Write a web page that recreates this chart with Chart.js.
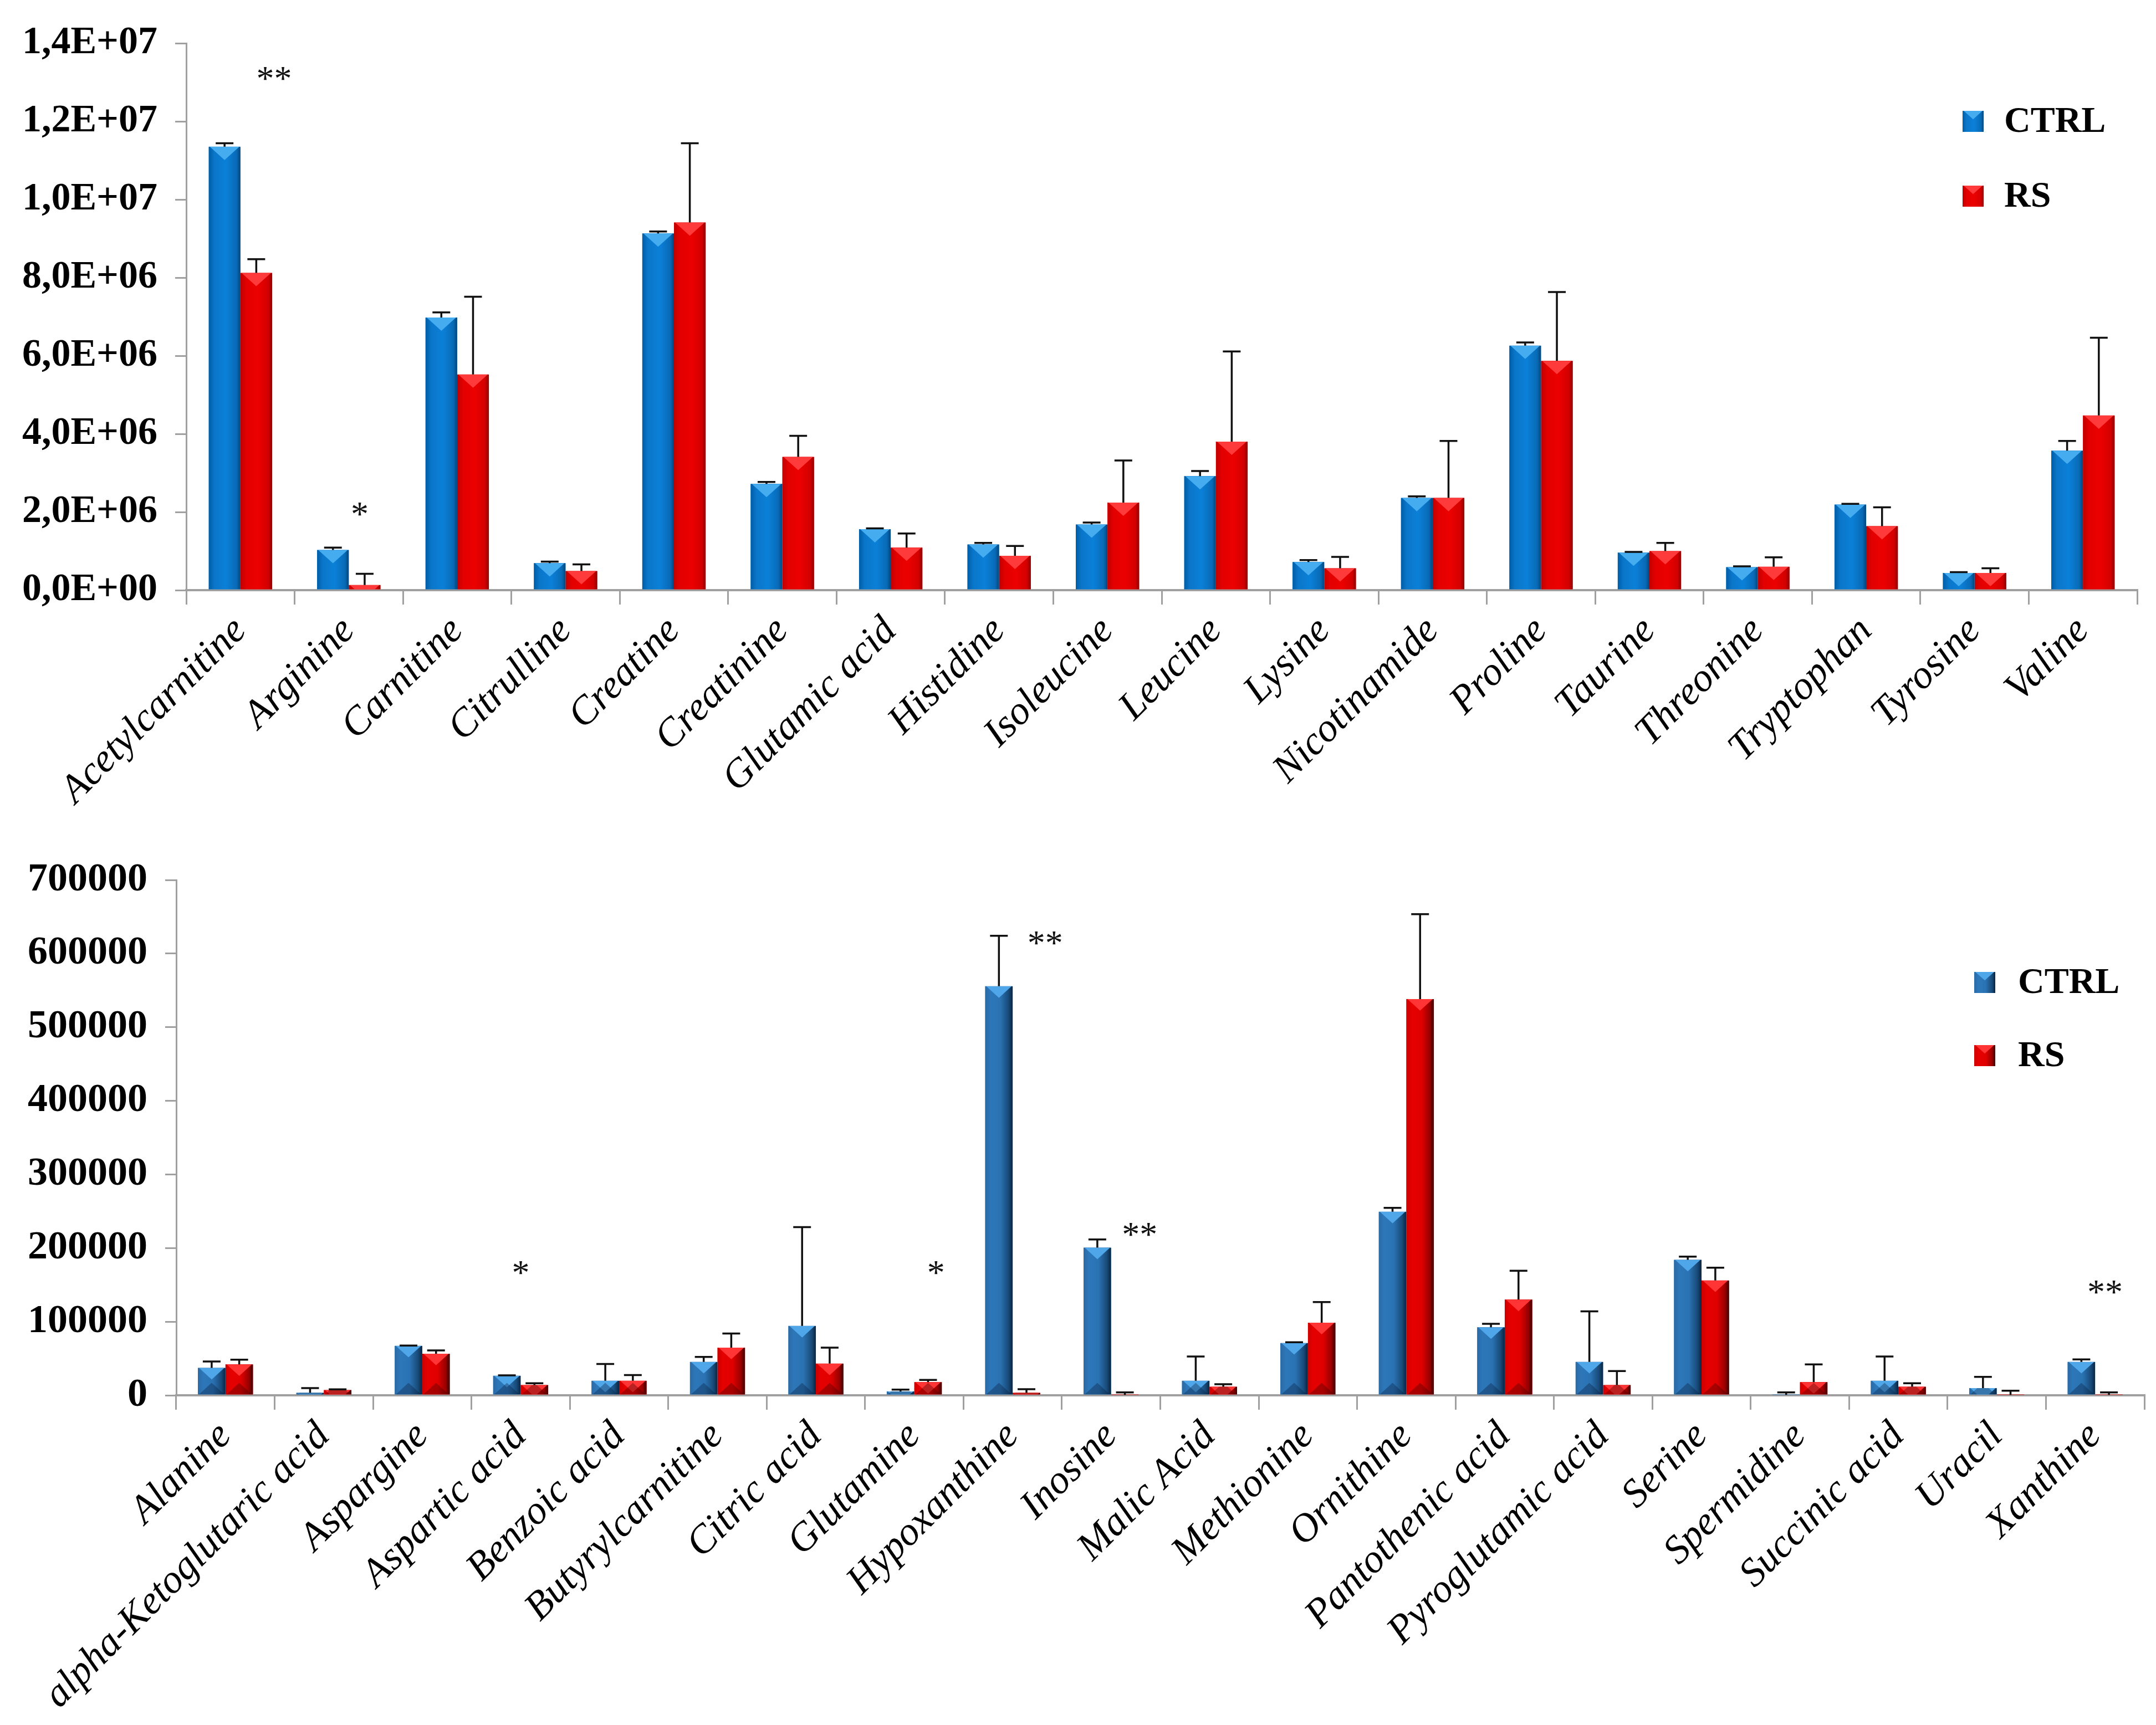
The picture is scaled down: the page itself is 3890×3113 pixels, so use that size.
<!DOCTYPE html>
<html>
<head>
<meta charset="utf-8">
<script src="https://cdn.jsdelivr.net/npm/chart.js@4.4.1/dist/chart.umd.min.js"></script>
<style>
html, body { margin: 0; padding: 0; background: #fff; }
#wrap { position: relative; width: 3890px; height: 3113px; background: #fff; overflow: hidden; }
#topChart { position: absolute; left: 0; top: 0; width: 3890px; height: 1500px; }
#bottomChart { position: absolute; left: 0; top: 1492px; width: 3890px; height: 1613px; }
</style>
</head>
<body>
<div id="wrap">
  <canvas id="topChart" width="3890" height="1500"></canvas>
  <canvas id="bottomChart" width="3890" height="1613"></canvas>
</div>
<script>
// ---- top panel data ----
const topLabels = ["Acetylcarnitine", "Arginine", "Carnitine", "Citrulline", "Creatine", "Creatinine",
    "Glutamic acid", "Histidine", "Isoleucine", "Leucine", "Lysine", "Nicotinamide", "Proline",
    "Taurine", "Threonine", "Tryptophan", "Tyrosine", "Valine"];
const topCtrl = [11.35e6, 1.03e6, 6.98e6, 0.69e6, 9.13e6, 2.72e6, 1.56e6, 1.17e6, 1.68e6,
    2.92e6, 0.72e6, 2.36e6, 6.26e6, 0.96e6, 0.59e6, 2.19e6, 0.44e6, 3.57e6];
const topCtrlErr = [0.09e6, 0.06e6, 0.13e6, 0.04e6, 0.05e6, 0.05e6, 0.02e6, 0.04e6, 0.05e6,
    0.13e6, 0.05e6, 0.04e6, 0.08e6, 0.02e6, 0.02e6, 0.02e6, 0.02e6, 0.25e6];
const topRs = [8.12e6, 0.13e6, 5.52e6, 0.49e6, 9.41e6, 3.41e6, 1.09e6, 0.88e6, 2.24e6,
    3.80e6, 0.56e6, 2.36e6, 5.87e6, 1.00e6, 0.60e6, 1.64e6, 0.44e6, 4.47e6];
const topRsErr = [0.35e6, 0.29e6, 1.99e6, 0.17e6, 2.03e6, 0.54e6, 0.36e6, 0.25e6, 1.08e6,
    2.31e6, 0.29e6, 1.46e6, 1.76e6, 0.21e6, 0.24e6, 0.48e6, 0.12e6, 1.99e6];
const topSigCats = [0, 1];
const topSigText = ["**", "*"];
const topSigValue = [1.32e7, 2.05e6];

// ---- bottom panel data ----
const botLabels = ["Alanine", "alpha-Ketoglutaric acid", "Aspargine", "Aspartic acid", "Benzoic acid",
    "Butyrylcarnitine", "Citric acid", "Glutamine", "Hypoxanthine", "Inosine", "Malic Acid",
    "Methionine", "Ornithine", "Pantothenic acid", "Pyroglutamic acid", "Serine", "Spermidine",
    "Succinic acid", "Uracil", "Xanthine"];
const botCtrl = [37200, 3400, 67200, 26600, 19800, 45400, 94200, 5300, 555600, 200500,
    19800, 71000, 249300, 92300, 45400, 184100, 500, 19800, 9700, 45400];
const botCtrlErr = [8700, 6300, 400, 500, 22700, 6800, 134300, 2400, 68600, 11100,
    32900, 1000, 5300, 4800, 68600, 4300, 3400, 32900, 15400, 3400];
const botRs = [42000, 7200, 56500, 14000, 19800, 64700, 43000, 17900, 3400, 500,
    11600, 98600, 538200, 130000, 14000, 156000, 17900, 11600, 500, 500];
const botRsErr = [6300, 800, 4400, 2400, 7700, 19300, 21700, 2900, 4800, 3400,
    3400, 28000, 115400, 39100, 18900, 17400, 24100, 4800, 5800, 3400];
const botSigCats = [3, 7, 8, 9, 19];
const botSigText = ["*", "*", "**", "**", "**"];
const botSigValue = [172500, 172500, 620000, 224000, 146000];

const seriesNames = ["CTRL", "RS"];

const SERIF = '"Liberation Serif", "Times New Roman", serif';

const topPalettes = [
    { body: [[0, '#005da6'], [0.18, '#0a76c9'], [0.55, '#0b80d8'], [0.88, '#086ab6'], [1, '#04457a']],
      top: '#46acf0', bottom: null, flat: '#0a78cc' },
    { body: [[0, '#c00000'], [0.18, '#e20000'], [0.55, '#ec0000'], [0.88, '#d20000'], [1, '#8c0000']],
      top: '#ff3a3a', bottom: null, flat: '#e60000' }
];
const botPalettes = [
    { body: [[0, '#2b6aa5'], [0.2, '#2d77b9'], [0.55, '#2a72b2'], [0.85, '#184a78'], [1, '#0a2440']],
      top: '#4fa6e8', bottom: 'rgba(10,30,60,0.35)', flat: '#2a72b2' },
    { body: [[0, '#cc0000'], [0.2, '#e60000'], [0.55, '#e00000'], [0.85, '#990000'], [1, '#3c0000']],
      top: '#ff3434', bottom: 'rgba(60,0,0,0.35)', flat: '#e00000' }
];

function sciLabel(v) {
    if (v === 0) return '0,0E+00';
    let e = Math.floor(Math.log10(v) + 1e-9);
    let m = v / Math.pow(10, e);
    return m.toFixed(1).replace('.', ',') + 'E+' + (e < 10 ? '0' + e : e);
}

// bars with bevel, error bars, significance marks and legend
const decorPlugin = {
    id: 'decor',
    afterDatasetsDraw(chart, args, opts) {
        const ctx = chart.ctx;
        const xs = chart.scales.x, ys = chart.scales.y;
        chart.data.datasets.forEach((ds, i) => {
            const meta = chart.getDatasetMeta(i);
            const pal = opts.palettes[i];
            meta.data.forEach((bar, j) => {
                const w = bar.width, l = bar.x - w / 2, r = bar.x + w / 2;
                const t = bar.y, b = bar.base;
                if (b - t > 0.5) {
                    ctx.save();
                    ctx.beginPath();
                    ctx.rect(l, t, w, b - t);
                    ctx.clip();
                    const g = ctx.createLinearGradient(l, 0, r, 0);
                    pal.body.forEach(s => g.addColorStop(s[0], s[1]));
                    ctx.fillStyle = g;
                    ctx.fillRect(l, t, w, b - t);
                    ctx.beginPath();
                    ctx.moveTo(l + 2, t);
                    ctx.lineTo(r - 2, t);
                    ctx.lineTo(bar.x, t + w * 0.42);
                    ctx.closePath();
                    ctx.fillStyle = pal.top;
                    ctx.fill();
                    if (pal.bottom) {
                        ctx.beginPath();
                        ctx.moveTo(l + 2, b);
                        ctx.lineTo(r - 2, b);
                        ctx.lineTo(bar.x, b - w * 0.42);
                        ctx.closePath();
                        ctx.fillStyle = pal.bottom;
                        ctx.fill();
                    }
                    ctx.restore();
                }
                // error bar (upper only)
                const err = opts.errors[i][j];
                const yTop = ys.getPixelForValue(ds.data[j] + err);
                ctx.save();
                ctx.strokeStyle = '#111';
                ctx.lineWidth = 3.5;
                ctx.beginPath();
                ctx.moveTo(bar.x, t);
                ctx.lineTo(bar.x, yTop);
                ctx.moveTo(bar.x - 16, yTop);
                ctx.lineTo(bar.x + 16, yTop);
                ctx.stroke();
                ctx.restore();
            });
        });
        // significance marks
        const catW = xs.width / chart.data.labels.length;
        ctx.save();
        ctx.fillStyle = '#111';
        ctx.font = '64px ' + SERIF;
        ctx.textAlign = 'center';
        ctx.textBaseline = 'middle';
        opts.sigCats.forEach((c, k) => {
            const x = xs.getPixelForValue(c) + opts.sigShift[k] * catW;
            const y = ys.getPixelForValue(opts.sigValue[k]) + 12;
            ctx.fillText(opts.sigText[k], x, y);
        });
        ctx.restore();
        // legend
        ctx.save();
        ctx.font = 'bold 66px ' + SERIF;
        ctx.textBaseline = 'middle';
        ctx.textAlign = 'left';
        seriesNames.forEach((name, i) => {
            const pal = opts.palettes[i];
            const cy = opts.legend.y[i];
            const lx = opts.legend.x, s = 38;
            const g = ctx.createLinearGradient(lx, 0, lx + s, 0);
            pal.body.forEach(st => g.addColorStop(st[0], st[1]));
            ctx.fillStyle = g;
            ctx.fillRect(lx, cy - s / 2, s, s);
            ctx.beginPath();
            ctx.moveTo(lx + 2, cy - s / 2);
            ctx.lineTo(lx + s - 2, cy - s / 2);
            ctx.lineTo(lx + s / 2, cy - s / 2 + s * 0.4);
            ctx.closePath();
            ctx.fillStyle = pal.top;
            ctx.fill();
            ctx.fillStyle = '#000';
            ctx.fillText(name, opts.legend.textX, cy + 2);
        });
        ctx.restore();
    }
};

function makeChart(id, cfg) {
    return new Chart(document.getElementById(id), {
        type: 'bar',
        data: {
            labels: cfg.labels,
            datasets: [
                { label: seriesNames[0], data: cfg.ctrl, backgroundColor: cfg.palettes[0].flat, borderWidth: 0 },
                { label: seriesNames[1], data: cfg.rs, backgroundColor: cfg.palettes[1].flat, borderWidth: 0 }
            ]
        },
        options: {
            responsive: false,
            animation: false,
            devicePixelRatio: 1,
            datasets: {
                bar: { categoryPercentage: cfg.catPct, barPercentage: 1 }
            },
            layout: { padding: cfg.padding },
            plugins: {
                legend: { display: false },
                tooltip: { enabled: false },
                decor: {
                    palettes: cfg.palettes,
                    errors: [cfg.ctrlErr, cfg.rsErr],
                    sigCats: cfg.sigCats,
                    sigText: cfg.sigText,
                    sigValue: cfg.sigValue,
                    sigShift: cfg.sigShift,
                    legend: cfg.legend
                }
            },
            scales: {
                x: {
                    afterFit: s => { s.height = cfg.xHeight; },
                    grid: { drawOnChartArea: false, color: '#a0a0a0', lineWidth: 3, tickLength: 26 },
                    border: { color: '#a0a0a0', width: 4 },
                    ticks: {
                        autoSkip: false,
                        maxRotation: 45,
                        minRotation: 45,
                        padding: 6,
                        color: '#000',
                        font: { family: SERIF, size: 72, style: 'italic' }
                    }
                },
                y: {
                    min: 0,
                    max: cfg.yMax,
                    afterFit: s => { s.width = cfg.yWidth; },
                    grid: { drawOnChartArea: false, color: '#a0a0a0', lineWidth: 3, tickLength: 20 },
                    border: { color: '#a0a0a0', width: 3 },
                    ticks: {
                        stepSize: cfg.yStep,
                        padding: 32,
                        color: '#000',
                        font: { family: SERIF, size: cfg.yFont, weight: 'bold' },
                        callback: cfg.yFormat
                    }
                }
            }
        },
        plugins: [decorPlugin]
    });
}

makeChart('topChart', {
    labels: topLabels, ctrl: topCtrl, rs: topRs, ctrlErr: topCtrlErr, rsErr: topRsErr,
    palettes: topPalettes, catPct: 0.585,
    padding: { top: 78, right: 34, left: 0, bottom: 0 },
    xHeight: 435, yWidth: 336, yMax: 1.4e7, yStep: 2e6, yFont: 70,
    yFormat: v => sciLabel(v),
    sigCats: topSigCats, sigText: topSigText, sigValue: topSigValue, sigShift: [0.31, 0.1],
    legend: { x: 3541, textX: 3616, y: [219, 354] }
});

makeChart('bottomChart', {
    labels: botLabels, ctrl: botCtrl, rs: botRs, ctrlErr: botCtrlErr, rsErr: botRsErr,
    palettes: botPalettes, catPct: 0.56,
    padding: { top: 96, right: 21, left: 0, bottom: 0 },
    xHeight: 587, yWidth: 318, yMax: 700000, yStep: 100000, yFont: 72,
    yFormat: v => String(v),
    sigCats: botSigCats, sigText: botSigText, sigValue: botSigValue, sigShift: [0, 0.22, 0.33, 0.29, 0.1],
    legend: { x: 3562, textX: 3641, y: [281, 413] }
});
</script>
</body>
</html>
